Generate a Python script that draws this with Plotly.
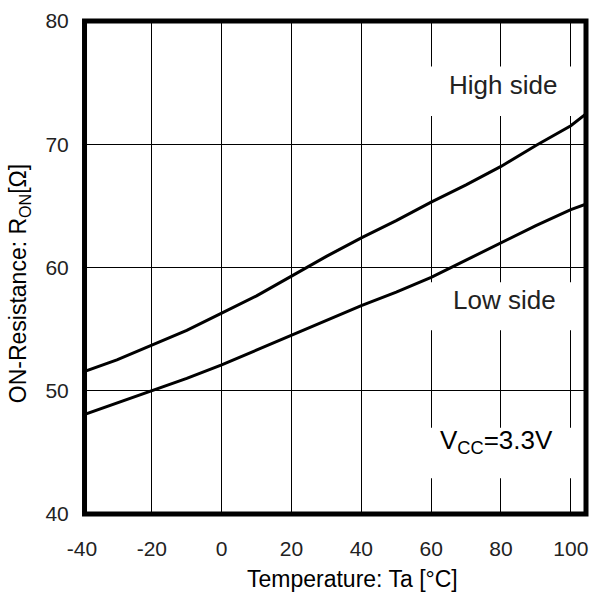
import plotly.graph_objects as go

temps = [-40, -30, -20, -10, 0, 10, 20, 30, 40, 50, 60, 70, 80, 90, 100, 105]
high_side = [51.5, 52.5, 53.7, 54.9, 56.3, 57.7, 59.3, 60.9, 62.4, 63.8, 65.3, 66.7, 68.2, 69.9, 71.5, 72.6]
low_side = [48.0, 49.0, 50.0, 51.0, 52.1, 53.3, 54.5, 55.7, 56.9, 58.0, 59.2, 60.6, 62.0, 63.4, 64.7, 65.2]

x_ticks = [-40, -20, 0, 20, 40, 60, 80, 100]
y_ticks = [40, 50, 60, 70, 80]

FONT = "Liberation Sans, Arial, sans-serif"

fig = go.Figure()
fig.add_trace(go.Scatter(x=temps, y=high_side, mode="lines",
                         line=dict(color="black", width=3), showlegend=False))
fig.add_trace(go.Scatter(x=temps, y=low_side, mode="lines",
                         line=dict(color="black", width=3), showlegend=False))

# white label backgrounds that interrupt the grid
for (x0, x1, y0, y1) in [(57.9, 102.1, 72.3, 76.3), (57.9, 102.1, 54.9, 58.8), (57.9, 102.1, 42.9, 47.0)]:
    fig.add_shape(type="rect", xref="x", yref="y", x0=x0, x1=x1, y0=y0, y1=y1,
                  fillcolor="white", line=dict(width=0), layer="between")

# frame
fig.add_shape(type="rect", xref="paper", yref="paper", x0=0.005, x1=1.0, y0=0, y1=1,
              line=dict(color="black", width=5), layer="above")

fig.add_annotation(x=80.5, y=74.8, xref="x", yref="y", text="High side", showarrow=False,
                   font=dict(family=FONT, size=26, color="#222"))
fig.add_annotation(x=81.0, y=57.4, xref="x", yref="y", text="Low side", showarrow=False,
                   font=dict(family=FONT, size=26, color="#222"))
fig.add_annotation(x=78.6, y=45.85, xref="x", yref="y", text="V<sub>CC</sub>=3.3V", showarrow=False,
                   font=dict(family=FONT, size=26, color="black"))

fig.add_annotation(x=0.536, y=-0.132, xref="paper", yref="paper", text="Temperature: Ta [°C]",
                   showarrow=False, yanchor="middle",
                   font=dict(family=FONT, size=23, color="black"))
fig.add_annotation(x=-0.125, y=0.466, xref="paper", yref="paper",
                   text="ON-Resistance: R<sub>ON</sub>[Ω]", textangle=-90,
                   showarrow=False, xanchor="center", yanchor="middle",
                   font=dict(family=FONT, size=23, color="black"))

fig.update_xaxes(range=[-40, 104.35], tickvals=x_ticks, ticktext=[str(v) for v in x_ticks],
                 showgrid=True, gridcolor="black", gridwidth=1.2, zeroline=False,
                 showline=False, ticks="outside", ticklen=16, tickcolor="rgba(0,0,0,0)",
                 tickfont=dict(family=FONT, size=21, color="#222"))
fig.update_yaxes(range=[40, 80], tickvals=y_ticks, ticktext=[str(v) for v in y_ticks],
                 showgrid=True, gridcolor="black", gridwidth=1.2, zeroline=False,
                 showline=False, ticks="outside", ticklen=8, tickcolor="rgba(0,0,0,0)",
                 tickfont=dict(family=FONT, size=21, color="#222"))

fig.update_layout(width=593, height=593, margin=dict(l=82, r=5, t=21, b=79),
                  paper_bgcolor="white", plot_bgcolor="white")

fig.write_html("out.html", config={"displayModeBar": False},
               post_script="document.body.style.margin='0';document.body.style.overflow='hidden';")
